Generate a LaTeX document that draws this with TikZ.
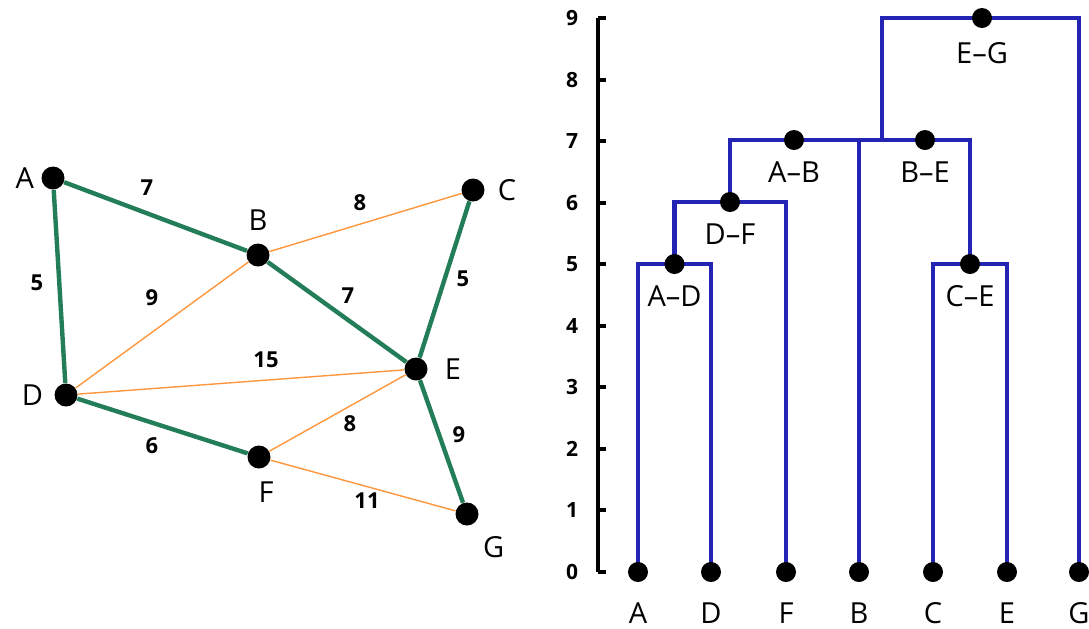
\documentclass[tikz,border=0pt]{standalone}
\usepackage{fontspec}
\setmainfont{Open Sans}
\usepackage{xcolor}
\usetikzlibrary{positioning,shapes.geometric}
\definecolor{treegreen}{RGB}{35,125,88}
\definecolor{edgeorange}{RGB}{255,150,60}
\definecolor{dendblue}{RGB}{35,35,180}

\begin{document}
\begin{tikzpicture}[x=0.5pt,y=-0.5pt, every node/.style={font=\fontsize{14.5}{16}\selectfont},
  vtx/.style={circle,fill=black,inner sep=0pt,minimum size=11.5pt},
  leaf/.style={circle,fill=black,inner sep=0pt,minimum size=10pt},
  wt/.style={font=\fontsize{11}{13}\selectfont\bfseries},
  tick/.style={font=\fontsize{10.5}{12}\selectfont\bfseries},
  tree/.style={treegreen,line width=2.2pt},
  other/.style={edgeorange,line width=0.7pt},
  dend/.style={dendblue,line width=2.1pt},
  axis/.style={black,line width=2pt}]
  \useasboundingbox (0,0) rectangle (1089,628);
  % weighted graph
  \node[vtx,label={[label distance=0pt]left:A}] (A) at (53,178) {};
  \node[vtx,label={[label distance=3pt]above:B}] (B) at (258,255) {};
  \node[vtx,label={[label distance=3pt]right:C}] (C) at (473,190) {};
  \node[vtx,label={[label distance=2pt]left:D}] (D) at (66,395) {};
  \node[vtx,label={[label distance=5pt]right:E}] (E) at (416,369) {};
  \node[vtx,label={[label distance=3pt,xshift=3.5pt]below:F}] (F) at (259,457) {};
  \node[vtx,label={[label distance=3pt]-60:G}] (G) at (467,514) {};
  \draw[other] (B) -- (C); \draw[other] (B) -- (D); \draw[other] (D) -- (E);
  \draw[other] (F) -- (E); \draw[other] (F) -- (G);
  \draw[tree] (A) -- (B); \draw[tree] (A) -- (D); \draw[tree] (B) -- (E);
  \draw[tree] (C) -- (E); \draw[tree] (D) -- (F); \draw[tree] (E) -- (G);
  \node[wt] (wAB) at (147,188) {7};
  \node[wt] (wBC) at (360,203) {8};
  \node[wt] (wAD) at (37,283) {5};
  \node[wt] (wBD) at (152,298) {9};
  \node[wt] (wBE) at (348,296) {7};
  \node[wt] (wCE) at (463,279) {5};
  \node[wt] (wDE) at (266,360) {15};
  \node[wt] (wEF) at (350,424) {8};
  \node[wt] (wEG) at (459,435) {9};
  \node[wt] (wDF) at (152,446) {6};
  \node[wt] (wFG) at (367,501) {11};
  % dendrogram axis
  \draw[axis] (598,18) -- (598,572);
  \foreach \v in {0,...,9} {
    \draw[axis] (598,{572-61.56*\v}) -- (606,{572-61.56*\v});
    \node[tick] at (572,{572-61.56*\v}) {\v};
  }
  % leaves and merges
  \coordinate (lA) at (638,572); \coordinate (lD) at (711,572);
  \coordinate (lF) at (786,572); \coordinate (lB) at (859,572);
  \coordinate (lC) at (933,572); \coordinate (lE) at (1007,572);
  \coordinate (lG) at (1079,572);
  \coordinate (jAD) at (674.5,264); \coordinate (jDF) at (730,202);
  \coordinate (jAB) at (794,140); \coordinate (jBE) at (925,140);
  \coordinate (jCE) at (970,264); \coordinate (jEG) at (982,18);
  \coordinate (stem) at (882,140);
  \draw[dend] (lA) |- (jAD) -| (lD);
  \draw[dend] (jAD) |- (jDF) -| (lF);
  \draw[dend] (jDF) |- (jAB) -| (lB);
  \draw[dend] (lC) |- (jCE) -| (lE);
  \draw[dend] (jAB) -- (jBE) -| (jCE);
  \draw[dend] (stem) |- (jEG) -| (lG);
  \foreach \p in {lA,lD,lF,lB,lC,lE,lG,jAD,jDF,jAB,jBE,jCE,jEG}
    \node[leaf] at (\p) {};
  \foreach \p/\t in {lA/A,lD/D,lF/F,lB/B,lC/C,lE/E,lG/G}
    \node[below=20.5pt of \p,anchor=center,inner sep=1pt] {\t};
  \node[below=16pt of jAD,anchor=center] (tAD) {A--D};
  \node[below=16pt of jDF,anchor=center] (tDF) {D--F};
  \node[below=16pt of jAB,anchor=center] (tAB) {A--B};
  \node[below=16pt of jBE,anchor=center] (tBE) {B--E};
  \node[below=16pt of jCE,anchor=center] (tCE) {C--E};
  \node[below=17.5pt of jEG,anchor=center] (tEG) {E--G};
\end{tikzpicture}
\end{document}
